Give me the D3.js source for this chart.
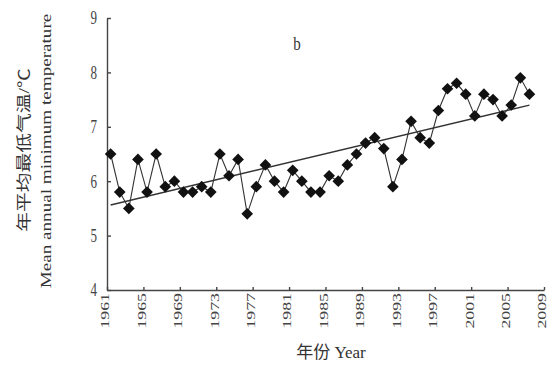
<!DOCTYPE html>
<html>
<head>
<meta charset="utf-8">
<script src="https://cdnjs.cloudflare.com/ajax/libs/d3/7.8.5/d3.min.js"></script>
<style>
  body { margin: 0; background: #fff; }
  svg text { font-family: "Liberation Serif", "Noto Sans CJK SC", serif; fill: #333; }
</style>
</head>
<body>
<svg class="svg"></svg>
<script>
// data (annual mean minimum temperature, °C)
var years = [1961, 1962, 1963, 1964, 1965, 1966, 1967, 1968, 1969, 1970,
             1971, 1972, 1973, 1974, 1975, 1976, 1977, 1978, 1979, 1980,
             1981, 1982, 1983, 1984, 1985, 1986, 1987, 1988, 1989, 1990,
             1991, 1992, 1993, 1994, 1995, 1996, 1997, 1998, 1999, 2000,
             2001, 2002, 2003, 2004, 2005, 2006, 2007];
var tmin = [6.5, 5.8, 5.5, 6.4, 5.8, 6.5, 5.9, 6.0, 5.8, 5.8,
            5.9, 5.8, 6.5, 6.1, 6.4, 5.4, 5.9, 6.3, 6.0, 5.8,
            6.2, 6.0, 5.8, 5.8, 6.1, 6.0, 6.3, 6.5, 6.7, 6.8,
            6.6, 5.9, 6.4, 7.1, 6.8, 6.7, 7.3, 7.7, 7.8, 7.6,
            7.2, 7.6, 7.5, 7.2, 7.4, 7.9, 7.6];
var xTicks = [1961, 1965, 1969, 1973, 1977, 1981, 1985, 1989, 1993, 1997, 2001, 2005, 2009];
var yTicks = [4, 5, 6, 7, 8, 9];

var margin = { top: 18, right: 13, bottom: 76, left: 107 },
    width  = 557 - margin.left - margin.right,
    height = 366 - margin.top - margin.bottom;

var stretch = 1.37; // the figure text is drawn tall

var data = years.map(function(d, i){ return { year: d, t: tmin[i] } });

var x = d3.scaleLinear().domain([1961, 2009]).range([0, width]);
var y = d3.scaleLinear().domain([4, 9]).range([height, 0]);

// points sit a little right of their year tick
var xp = function(d){ return x(d.year + 0.4) };

var svg = d3.select('.svg')
            .attr('width', width + margin.left + margin.right)
            .attr('height', height + margin.top + margin.bottom)
            .append('g')
            .attr('transform', 'translate(' + margin.left + ',' + margin.top + ')');

// linear trend (least squares)
var mx = d3.mean(data, function(d){ return d.year }),
    my = d3.mean(data, function(d){ return d.t });
var slope = d3.sum(data, function(d){ return (d.year - mx) * (d.t - my) }) /
            d3.sum(data, function(d){ return (d.year - mx) * (d.year - mx) });
var trend = [data[0], data[data.length - 1]].map(function(d){
    return { year: d.year, t: my + slope * (d.year - mx) };
});

// axes
var xAxis = d3.axisBottom(x).tickValues(xTicks).tickSize(-3).tickSizeOuter(0).tickFormat(d3.format('d'));
var yAxis = d3.axisLeft(y).tickValues(yTicks).tickSize(-4).tickSizeOuter(0).tickFormat(d3.format('d'));

var gx = svg.append('g')
    .attr('class', 'x axis')
    .attr('transform', 'translate(0,' + height + ')')
    .call(xAxis);
gx.selectAll('text')
    .attr('x', 0).attr('y', 0).attr('dy', '0.3em')
    .attr('transform', 'translate(-2,3) scale(1,' + stretch + ') rotate(-90)')
    .style('text-anchor', 'end')
    .attr('font-size', '13px');

var gy = svg.append('g')
    .attr('class', 'y axis')
    .call(yAxis);
gy.selectAll('text')
    .attr('x', 0).attr('dy', '0.33em')
    .attr('transform', 'translate(-10,0) scale(1,' + stretch + ')')
    .attr('font-size', '13px');

svg.selectAll('.axis path, .axis line')
    .attr('stroke', '#444')
    .attr('stroke-width', 1.4);
svg.selectAll('.axis text').style('fill', '#444').style('font-family', '"Liberation Serif", serif');

// series line
var line = d3.line()
    .x(xp)
    .y(function(d){ return y(d.t) });

svg.append('path')
    .datum(data)
    .attr('fill', 'none')
    .attr('stroke', '#333')
    .attr('stroke-width', 1.1)
    .attr('d', line);

svg.append('path')
    .datum(trend)
    .attr('fill', 'none')
    .attr('stroke', '#333')
    .attr('stroke-width', 1.5)
    .attr('d', line);

// diamond markers
var diamond = d3.symbol().type(d3.symbolSquare).size(68);
svg.selectAll('.pt')
    .data(data)
    .enter()
    .append('path')
    .attr('class', 'pt')
    .attr('d', diamond)
    .attr('fill', '#111')
    .attr('transform', function(d){
        return 'translate(' + xp(d) + ',' + y(d.t) + ') rotate(45)';
    });

// panel label
svg.append('text')
    .attr('transform', 'translate(' + (297 - margin.left) + ',' + (50 - margin.top) + ') scale(1,1.2)')
    .attr('font-size', '15px')
    .style('text-anchor', 'middle')
    .text('b');

// y title, two lines
svg.append('text')
    .attr('transform', 'translate(' + (29 - margin.left) + ',' + (150 - margin.top) + ') scale(1,1.32) rotate(-90)')
    .attr('font-size', '15px')
    .style('text-anchor', 'middle')
    .text('年平均最低气温/℃');
svg.append('text')
    .attr('transform', 'translate(' + (51 - margin.left) + ',' + (151 - margin.top) + ') scale(1,1.32) rotate(-90)')
    .attr('font-size', '14.5px')
    .style('text-anchor', 'middle')
    .text('Mean annual minimum temperature');

// x title
svg.append('text')
    .attr('x', 331 - margin.left)
    .attr('y', 358 - margin.top)
    .attr('font-size', '17px')
    .style('text-anchor', 'middle')
    .text('年份 Year');
</script>
</body>
</html>
